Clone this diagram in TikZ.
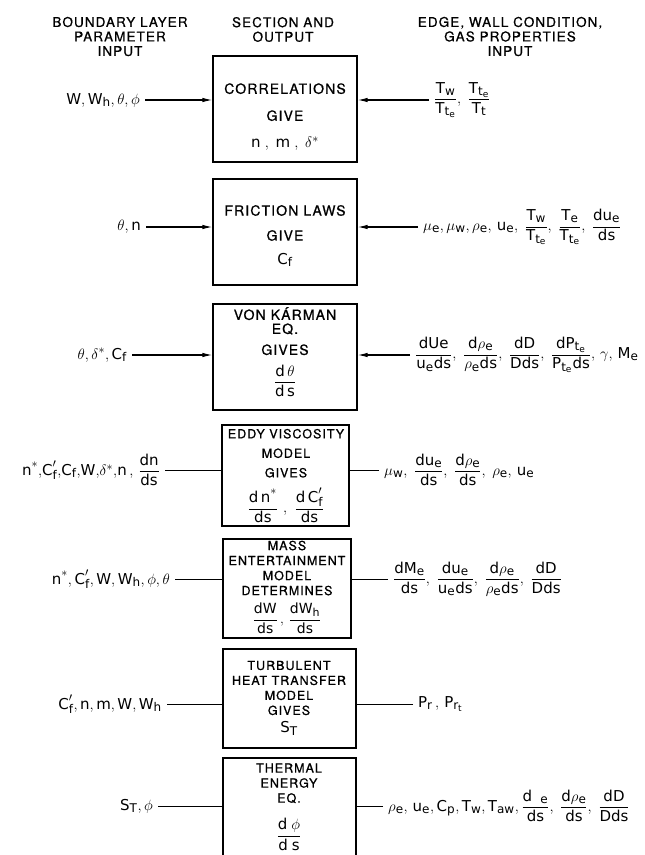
\RequirePackage{fix-cm}
\documentclass[tikz,border=0pt]{standalone}
\usepackage{amsmath}
\usepackage{fontspec}
\setmainfont{TeX Gyre Heros}[LetterSpace=8, FakeBold=0.8]
\setmathsf{DejaVu Sans}
\usetikzlibrary{arrows.meta}

% math sizes for the lettering sizes used below
\DeclareMathSizes{15}{15}{12}{9}
\DeclareMathSizes{14}{14}{11}{9}
\DeclareMathSizes{12.5}{12.5}{10}{8}

% upright sans letters in formulas, Greek stays italic
\newcommand{\sfm}[1]{$\mathsf{#1}$}
% formula line inside a section box
\newcommand{\boxm}[2][15]{{\fontsize{#1}{16}\selectfont$\mathsf{#2}$}}

\begin{document}
\begin{tikzpicture}[x=1pt, y={(0,-1pt)},
    sectbox/.style={draw, line width=1.3pt, inner sep=0pt},
    head/.style={align=center, inner sep=0pt, font=\fontsize{13.5}{14.5}\selectfont},
    bigtext/.style={align=center, inner sep=0pt, font=\fontsize{14}{16}\selectfont},
    smalltext/.style={align=center, inner sep=0pt, font=\fontsize{12.5}{15}\selectfont},
    given/.style={inner xsep=5pt, inner ysep=0pt, font=\fontsize{15}{17}\selectfont},
    feed/.style={line width=1.1pt, -{Latex[length=10pt,width=4.5pt]}},
    tie/.style={line width=1pt}]

    % ================= Canvas =================
    \useasboundingbox (0,0) rectangle (645,855);
    \clip (0,0) rectangle (645,855);

    % ================= Column headings =================
    \node[head] (hin)   at (120,36.5) {BOUNDARY LAYER\\PARAMETER\\INPUT};
    \node[head] (hsec)  at (283,29.5) {SECTION AND\\OUTPUT};
    \node[head] (hedge) at (510,36.5) {EDGE, WALL CONDITION,\\GAS PROPERTIES\\INPUT};

    % ================= Section boxes =================
    \node[sectbox, minimum width=144pt, minimum height=106pt] (corr)  at (285,109)     {};
    \node[sectbox, minimum width=144pt, minimum height=106pt] (fric)  at (285,232)     {};
    \node[sectbox, minimum width=144pt, minimum height=106pt] (vonk)  at (285,357)     {};
    \node[sectbox, minimum width=127pt, minimum height=101pt] (eddy)  at (285.5,475.5) {};
    \node[sectbox, minimum width=128pt, minimum height=99pt]  (mass)  at (287,588.5)   {};
    \node[sectbox, minimum width=133pt, minimum height=99pt]  (heat)  at (289.5,698.5) {};
    \node[sectbox, minimum width=133pt, minimum height=124pt] (therm) at (289.5,820)   {};

    % box texts
    \node[bigtext] (corr-t) at (285,117) {CORRELATIONS\\[11pt]GIVE\\[11pt]\boxm{n\;,\;m\;,\;\delta^*}};
    \node[bigtext] (fric-t) at (285,236) {FRICTION LAWS\\[9pt]GIVE\\[8pt]\boxm{C_f}};
    \node[bigtext] (vonk-t) at (285,352) {VON K\'ARMAN\\[-2pt]EQ.\\[5pt]GIVES\\[8.75pt]\boxm{\dfrac{d\,\theta}{d\,s}}};
    \node[smalltext] (eddy-t) at (286,476) {EDDY VISCOSITY\\[4.5pt]MODEL\\[4.5pt]GIVES\\[9pt]\boxm{\dfrac{d\,n^*}{ds}\hspace{5pt},\hspace{5pt}\dfrac{d\,C_f'}{ds}}};
    \node[smalltext] (mass-t) at (287,587) {MASS\\ENTERTAINMENT\\MODEL\\DETERMINES\\[7pt]\boxm[14]{\dfrac{dW}{ds}\,,\,\dfrac{dW_h}{ds}}};
    \node[smalltext] (heat-t) at (289,698) {TURBULENT\\HEAT TRANSFER\\MODEL\\GIVES\\[3pt]\boxm{S_T}};
    \node[smalltext] (therm-t) at (289,807) {THERMAL\\ENERGY\\EQ.\\[14.25pt]\boxm{\dfrac{d\;\phi}{d\;s}}};

    % ================= Boundary layer inputs (left) =================
    \node[given, anchor=east] (bl1) at (145,100) {\sfm{W,W_h,\theta,\phi}};
    \node[given, anchor=east] (bl2) at (146,227) {\sfm{\theta,n}};
    \node[given, anchor=east] (bl3) at (132,355) {\sfm{\theta,\delta^*,C_f}};
    \node[given, anchor=east] (bl4) at (165,470) {\sfm{n^*{,}C_f'{,}C_f{,}W{,}\delta^*{,}n\,,\,\dfrac{dn}{ds}}};
    \node[given, anchor=east] (bl5) at (175,579) {\sfm{n^*,C_f',W,W_h,\phi,\theta}};
    \node[given, anchor=east] (bl6) at (167,704) {\sfm{C_f',n,m,W,W_h}};
    \node[given, anchor=east] (bl7) at (158,806) {\sfm{S_T,\phi}};

    \draw[feed] (bl1.east) -- (bl1.east -| corr.west);
    \draw[feed] (bl2.east) -- (bl2.east -| fric.west);
    \draw[feed] (bl3.east) -- (bl3.east -| vonk.west);
    \draw[tie]  (bl4.east) -- (bl4.east -| eddy.west);
    \draw[tie]  (bl5.east) -- (bl5.east -| mass.west);
    \draw[tie]  (bl6.east) -- (bl6.east -| heat.west);
    \draw[tie]  (bl7.east) -- (bl7.east -| therm.west);

    % ================= Edge / wall / gas inputs (right) =================
    \node[given, anchor=west] (ed1) at (429,100) {\sfm{\dfrac{T_w}{T_{t_e}},\;\dfrac{T_{t_e}}{T_t}}};
    \node[given, anchor=west] (ed2) at (418,227) {\sfm{\mu_e,\mu_w,\rho_e,\,u_e,\;\dfrac{T_w}{T_{t_e}},\;\dfrac{T_e}{T_{t_e}},\;\dfrac{du_e}{ds}}};
    \node[given, anchor=west] (ed3) at (410,355) {\sfm{\dfrac{dUe}{u_e ds},\;\dfrac{d\rho_e}{\rho_e ds},\;\dfrac{dD}{D ds},\;\dfrac{dP_{t_e}}{P_{t_e} ds},\,\gamma,\,M_e}};
    \node[given, anchor=west] (ed4) at (379,470) {\sfm{\mu_w,\;\dfrac{du_e}{ds},\;\dfrac{d\rho_e}{ds},\;\rho_e,\,u_e}};
    \node[given, anchor=west] (ed5) at (388,579) {\sfm{\dfrac{dM_e}{ds},\;\dfrac{du_e}{u_e ds},\;\dfrac{d\rho_e}{\rho_e ds},\;\dfrac{dD}{D ds}}};
    \node[given, anchor=west] (ed6) at (413,704) {\sfm{P_r\,,\,P_{r_t}}};
    \node[given, anchor=west] (ed7) at (383,806) {\sfm{\rho_e,\,u_e,C_p,T_w,T_{aw},\dfrac{d\phantom{u}_e}{ds},\;\dfrac{d\rho_e}{ds},\;\dfrac{dD}{D ds}}};

    \draw[feed] (ed1.west) -- (ed1.west -| corr.east);
    \draw[feed] (ed2.west) -- (ed2.west -| fric.east);
    \draw[feed] (ed3.west) -- (ed3.west -| vonk.east);
    \draw[tie]  (ed4.west) -- (ed4.west -| eddy.east);
    \draw[tie]  (ed5.west) -- (ed5.west -| mass.east);
    \draw[tie]  (ed6.west) -- (ed6.west -| heat.east);
    \draw[tie]  (ed7.west) -- (ed7.west -| therm.east);

\end{tikzpicture}
\end{document}
